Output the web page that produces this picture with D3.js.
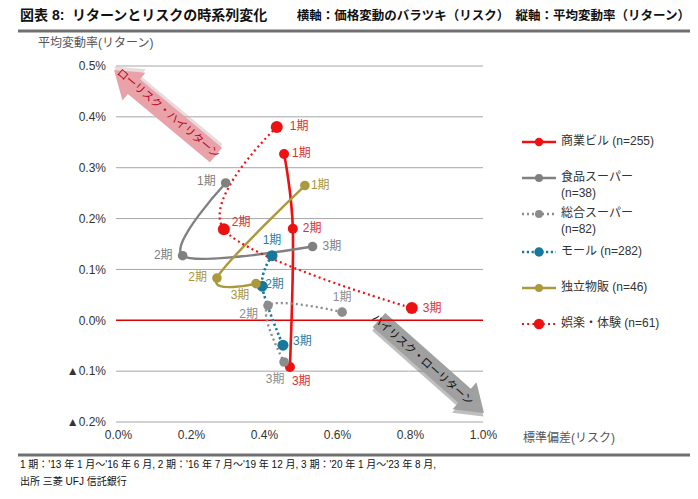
<!DOCTYPE html>
<html><head><meta charset="utf-8">
<script src="https://cdn.jsdelivr.net/npm/d3@7"></script>
<style>
body{margin:0;background:#fff;}
svg{font-family:"Liberation Sans","Noto Sans CJK JP",sans-serif;}
</style></head>
<body><svg id="c" width="698" height="499"></svg>
<script>
// ---- data ----
const periods = ["1期","2期","3期"];
const xTicks = [0,0.2,0.4,0.6,0.8,1.0];
const yTicks = [0.5,0.4,0.3,0.2,0.1,0.0,-0.1,-0.2];
const seriesNames = ["商業ビル","食品スーパー","総合スーパー","モール","独立物販","娯楽・体験"];
const seriesCounts = [255,38,82,282,46,61];
const shogyoX = [0.455,0.479,0.471], shogyoY = [0.327,0.180,-0.092];
const shokuhinX = [0.295,0.177,0.533], shokuhinY = [0.270,0.127,0.145];
const sogoX = [0.614,0.411,0.455], sogoY = [0.016,0.029,-0.082];
const mallX = [0.422,0.395,0.452], mallY = [0.127,0.067,-0.049];
const dokuritsuX = [0.512,0.271,0.378], dokuritsuY = [0.265,0.083,0.072];
const gorakuX = [0.435,0.290,0.805], gorakuY = [0.380,0.179,0.024];

const svg = d3.select("#c");
const x = d3.scaleLinear().domain([0,1.0]).range([118,483]);
const y = d3.scaleLinear().domain([-0.2,0.5]).range([422,66]);

// header
svg.append("text").attr("x",20).attr("y",20).attr("font-size",14).attr("font-weight","bold").attr("fill","#111")
  .text("図表 8:");
svg.append("text").attr("x",72).attr("y",20).attr("font-size",14).attr("font-weight","bold").attr("fill","#111")
  .text("リターンとリスクの時系列変化");
svg.append("text").attr("x",690).attr("y",20).attr("font-size",12.5).attr("font-weight","bold").attr("fill","#111")
  .attr("text-anchor","end").text("横軸：価格変動のバラツキ（リスク）　縦軸：平均変動率（リターン）");
svg.append("line").attr("x1",18).attr("x2",690).attr("y1",31).attr("y2",31).attr("stroke","#707070").attr("stroke-width",3);
svg.append("line").attr("x1",18).attr("x2",690).attr("y1",455).attr("y2",455).attr("stroke","#707070").attr("stroke-width",3);

svg.append("text").attr("x",38).attr("y",47).attr("font-size",12).attr("fill","#555").text("平均変動率(リターン)");
svg.append("text").attr("x",523).attr("y",442).attr("font-size",12).attr("fill","#555").text("標準偏差(リスク)");

// footer
svg.append("text").attr("x",20).attr("y",468).attr("font-size",10).attr("fill","#111")
  .text("1 期：'13 年 1 月～'16 年 6 月, 2 期：'16 年 7 月～'19 年 12 月, 3 期：'20 年 1 月～'23 年 8 月,");
svg.append("text").attr("x",20).attr("y",485).attr("font-size",10).attr("fill","#111").text("出所 三菱 UFJ 信託銀行");

// grid
const yAxis = d3.axisLeft(y).tickValues(yTicks).tickSize(0).tickPadding(10)
  .tickFormat(d => (d < 0 ? "▲" : "") + Math.abs(d).toFixed(1) + "%");
const gy = svg.append("g").attr("transform","translate(116,0)").call(yAxis);
gy.select(".domain").remove();
gy.selectAll("text").attr("font-size",12).attr("fill","#333").attr("font-family","Liberation Sans, sans-serif");
svg.append("g").selectAll("line").data(yTicks.filter(d=>d!==0)).join("line")
  .attr("x1",116).attr("x2",483).attr("y1",d=>y(d)).attr("y2",d=>y(d))
  .attr("stroke","#a6a6a6").attr("stroke-width",1);

const xAxis = d3.axisBottom(x).tickValues(xTicks).tickSize(0).tickPadding(8)
  .tickFormat(d => d.toFixed(1) + "%");
const gx = svg.append("g").attr("transform","translate(0,422)").call(xAxis);
gx.select(".domain").remove();
gx.selectAll("text").attr("font-size",12).attr("fill","#333").attr("font-family","Liberation Sans, sans-serif");

// arrows
function arrow(x1,y1,x2,y2,fill,shadow){
  const dx=x2-x1, dy=y2-y1, L=Math.hypot(dx,dy), ang=Math.atan2(dy,dx)*180/Math.PI;
  const bw=9.5, hw=18, hl=26;
  const pts=[[0,-bw],[L-hl,-bw],[L-hl,-hw],[L,0],[L-hl,hw],[L-hl,bw],[0,bw]];
  const g=svg.append("g").attr("transform",`translate(${x1},${y1}) rotate(${ang})`);
  g.append("polygon").attr("points",pts.map(p=>[p[0]+2,p[1]+3].join(",")).join(" ")).attr("fill",shadow).attr("opacity",0.45);
  g.append("polygon").attr("points",pts.map(p=>p.join(",")).join(" ")).attr("fill",fill);
  return g;
}
arrow(216,155,114,70,"#e9a3a8","#c9b0b0");
svg.append("text").attr("transform","translate(168,114) rotate(40.5)").attr("text-anchor","middle")
  .attr("dominant-baseline","middle").attr("font-size",11).attr("fill","#b8001e")
  .text("ローリスク・ハイリターン");
arrow(379,320,484,413,"#a0a0a0","#707070");
svg.append("text").attr("transform","translate(422,360) rotate(41.5)").attr("text-anchor","middle")
  .attr("dominant-baseline","middle").attr("font-size",11).attr("fill","#111")
  .text("ハイリスク・ローリターン");

// zero line
svg.append("line").attr("x1",116).attr("x2",483).attr("y1",y(0)).attr("y2",y(0)).attr("stroke","#dd0000").attr("stroke-width",1.6);

// series
const series = [
  {xs:shogyoX, ys:shogyoY, color:"#ee1111", lab:"#e0302e", dash:null, w:2.6, r:5,
   lp:[[8,0,"start"],[10,0,"start"],[2,15,"start"]]},
  {xs:shokuhinX, ys:shokuhinY, color:"#808080", lab:"#808080", dash:null, w:2.4, r:4.8,
   lp:[[-10,-1,"end"],[-10,0,"end"],[10,0,"start"]]},
  {xs:sogoX, ys:sogoY, color:"#8c8c8c", lab:"#8c8c8c", dash:"2,3", w:2.3, r:4.8,
   lp:[[0,-14,"middle"],[-10,9,"end"],[-9,18,"middle"]]},
  {xs:mallX, ys:mallY, color:"#17789c", lab:"#2a80a2", dash:"2.2,2.6", w:2.6, r:5.5,
   lp:[[0,-15,"middle"],[3,-1,"start"],[10,-3,"start"]]},
  {xs:dokuritsuX, ys:dokuritsuY, color:"#ab9a3c", lab:"#a8963a", dash:null, w:2.4, r:4.8,
   lp:[[6,0,"start"],[-10,0,"end"],[-16,12,"middle"]]},
  {xs:gorakuX, ys:gorakuY, color:"#ee1111", lab:"#e0302e", dash:"2,3.2", w:2.2, r:6,
   lp:[[13,0,"start"],[8,-6,"start"],[11,1,"start"]]}
];
const line = d3.line().x(d=>x(d[0])).y(d=>y(d[1])).curve(d3.curveCardinal.tension(0));
series.forEach(s=>{
  const pts = s.xs.map((v,i)=>[v,s.ys[i]]);
  svg.append("path").attr("d",line(pts)).attr("fill","none").attr("stroke",s.color)
    .attr("stroke-width",s.w).attr("stroke-dasharray",s.dash);
});
series.forEach(s=>{
  const pts = s.xs.map((v,i)=>[v,s.ys[i]]);
  svg.append("g").selectAll("circle").data(pts).join("circle")
    .attr("cx",d=>x(d[0])).attr("cy",d=>y(d[1])).attr("r",s.r).attr("fill",s.color);
  svg.append("g").selectAll("text").data(pts).join("text")
    .attr("x",(d,i)=>x(d[0])+s.lp[i][0]).attr("y",(d,i)=>y(d[1])+s.lp[i][1])
    .attr("text-anchor",(d,i)=>s.lp[i][2])
    .attr("dominant-baseline","middle").attr("font-size",12).attr("fill",s.lab)
    .text((d,i)=>periods[i]);
});

// legend
const legY = [142,178,214,252,288,324];
const lg = svg.append("g");
series.forEach((s,i)=>{
  const yy = legY[i];
  lg.append("line").attr("x1",522).attr("x2",556).attr("y1",yy).attr("y2",yy).attr("stroke",s.color)
    .attr("stroke-width",s.w).attr("stroke-dasharray",s.dash);
  lg.append("circle").attr("cx",539).attr("cy",yy).attr("r",s.r-0.8).attr("fill",s.color);
  const twoLine = (i===1||i===2);
  const t = lg.append("text").attr("x",561).attr("y",yy).attr("dominant-baseline","middle")
    .attr("font-size",12).attr("fill","#333");
  if(twoLine){
    t.append("tspan").attr("x",561).text(seriesNames[i]);
    t.append("tspan").attr("x",561).attr("dy",16).text(`(n=${seriesCounts[i]})`);
  } else {
    t.text(`${seriesNames[i]} (n=${seriesCounts[i]})`);
  }
});
</script></body></html>
